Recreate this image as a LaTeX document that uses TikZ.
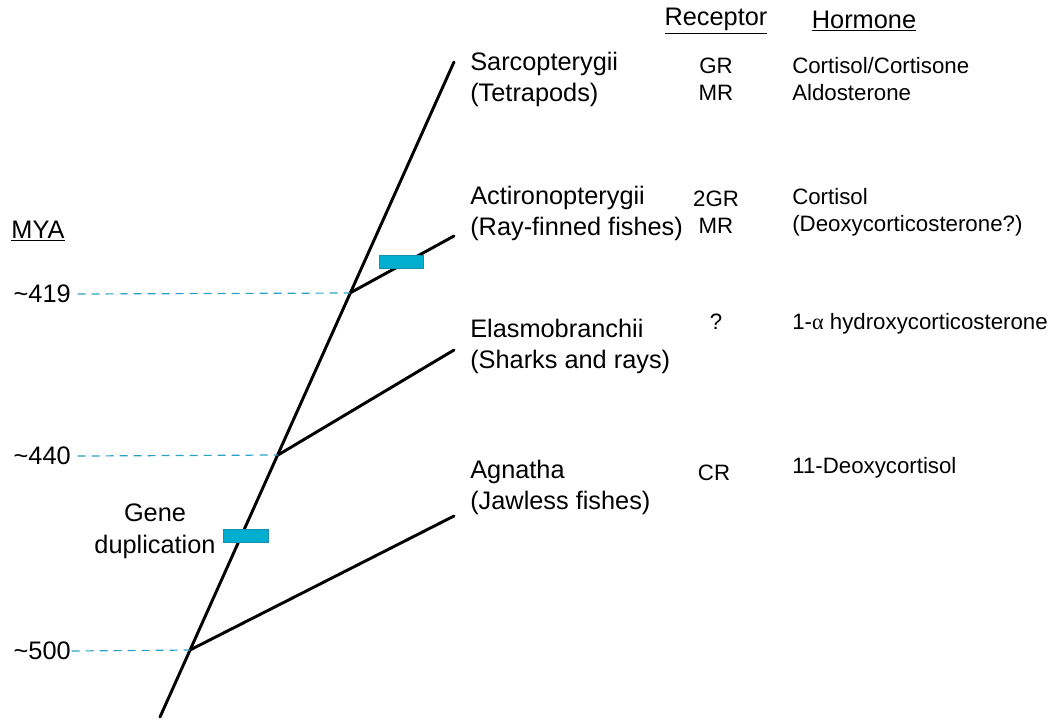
\documentclass[tikz,border=0pt]{standalone}
\usepackage{fontspec}
\setmainfont{Liberation Sans}
\newfontfamily\greekserif{Liberation Serif}
\usepackage{tikz}
\usetikzlibrary{positioning}
\definecolor{dupblue}{HTML}{00AECF}
\definecolor{dupedge}{HTML}{1590AE}
\definecolor{mya}{HTML}{2A9FC6}

\begin{document}
\begin{tikzpicture}[x=0.75pt, y=-0.75pt,
    branch/.style={line width=2.2pt, line cap=round},
    timeline/.style={mya, line width=0.9pt, dash pattern=on 6pt off 4.5pt},
    dupbox/.style={draw=dupedge, fill=dupblue, line width=0.6pt},
    taxon/.style={anchor=west, align=left, inner sep=0, font=\fontsize{19}{23.3}\selectfont},
    recep/.style={align=center, inner sep=0, font=\fontsize{16.7}{20}\selectfont},
    horm/.style={anchor=west, align=left, inner sep=0, font=\fontsize{16.7}{20}\selectfont},
    head/.style={inner sep=0, font=\fontsize{19}{22}\selectfont},
    age/.style={anchor=east, inner sep=0, font=\fontsize{19}{22}\selectfont}]

  \useasboundingbox (0,0) rectangle (1055,719);

  % Tree
  \coordinate (bot) at (160,717);
  \coordinate (top) at (454,62);
  \coordinate (b1) at (350,293);
  \coordinate (b2) at (278,455);
  \coordinate (b3) at (190,650);
  \coordinate (e1) at (454,236);
  \coordinate (e2) at (454,350);
  \coordinate (e3) at (454,516);
  \draw[branch] (bot) -- (top);
  \draw[branch] (b1) -- (e1);
  \draw[branch] (b2) -- (e2);
  \draw[branch] (b3) -- (e3);

  % Gene duplications
  \draw[dupbox] (379,255) rectangle (423,268);
  \draw[dupbox] (223,529) rectangle (268,542);
  \node[inner sep=0, align=center, font=\fontsize{19}{24}\selectfont] (dup) at (155,531) {Gene\\duplication};

  % Time scale
  \node[inner sep=0, font=\fontsize{19}{22}\selectfont] (mya) at (38,231) {\underline{MYA}};
  \node[age] (t419) at (71,294) {\textasciitilde 419};
  \node[age] (t440) at (71,456) {\textasciitilde 440};
  \node[age] (t500) at (71,651) {\textasciitilde 500};
  \draw[timeline] ([xshift=5pt]t419.east) -- (b1);
  \draw[timeline] ([xshift=5pt]t440.east) -- (b2);
  \draw[timeline] ([xshift=0.5pt]t500.east) -- (b3);

  % Taxa
  \node[taxon] (sarc) at (470,79) {Sarcopterygii\\(Tetrapods)};
  \node[taxon] (acti) at (470,213) {Actironopterygii\\(Ray-finned fishes)};
  \node[taxon] (elas) at (470,346) {Elasmobranchii\\(Sharks and rays)};
  \node[taxon] (agna) at (470,487) {Agnatha\\(Jawless fishes)};

  % Table
  \node[head] (rechead) at (716,21) {\underline{Receptor}};
  \node[head] (hormhead) at (864,21) {\underline{Hormone}};
  \node[recep] (r1) at (716,79) {GR\\MR};
  \node[horm] (h1) at (792,79) {Cortisol/Cortisone\\Aldosterone};
  \node[recep] (r2) at (716,212) {2GR\\MR};
  \node[horm] (h2) at (792,212) {Cortisol\\(Deoxycorticosterone?)};
  \node[recep] (r3) at (716,322) {?};
  \node[horm] (h3) at (792,324) {1-{\greekserif α} hydroxycorticosterone};
  \node[recep] (r4) at (714,473) {CR};
  \node[horm] (h4) at (792,468) {11-Deoxycortisol};

\end{tikzpicture}
\end{document}
